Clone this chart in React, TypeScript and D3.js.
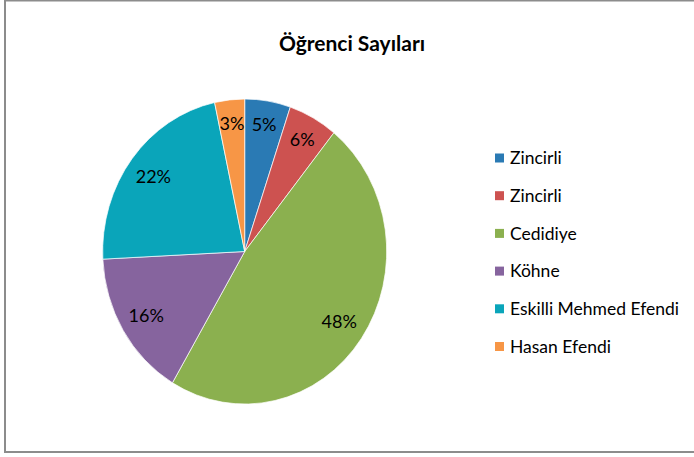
import React from "react";
import * as d3 from "d3";

const title = "Öğrenci Sayıları";
const categories = ["Zincirli", "Zincirli", "Cedidiye", "Köhne", "Eskilli Mehmed Efendi", "Hasan Efendi"];
const values = [5.2, 5.6, 47.7, 15.7, 22.4, 3.4];
const colors = ["#2A7AB4", "#CD5250", "#8BB04F", "#86649E", "#0AA5BA", "#F79646"];

const W = 694;
const H = 457;
const cx = 244.7;
const cy = 251.5;
const rx = 142;
const ry = 152.5;
const FONT = "Lato, 'Open Sans', sans-serif";

export default function App() {
  const total = d3.sum(values);
  const pie = d3.pie<number>().sort(null).value((d) => d);
  const arcs = pie(values);
  const arcGen = d3.arc<d3.PieArcDatum<number>>().innerRadius(0).outerRadius(1);

  return (
    <svg
      width={W}
      height={H}
      style={{ position: "absolute", left: 0, top: 0, background: "#fff" }}
    >
      <rect x={5} y={0.5} width={W + 10} height={451.5} fill="#fff" stroke="#8c8c8c" strokeWidth={2} />
      <text
        x={352}
        y={51}
        textAnchor="middle"
        fontFamily={FONT}
        fontWeight="bold"
        fontSize={21}
        fill="#000"
      >
        {title}
      </text>
      <g transform={`translate(${cx},${cy}) scale(${rx},${ry})`}>
        {arcs.map((a, i) => (
          <path
            key={i}
            d={arcGen(a) || ""}
            fill={colors[i]}
            stroke="#fff"
            strokeWidth={0.7}
            vectorEffect="non-scaling-stroke"
          />
        ))}
      </g>
      {arcs.map((a, i) => {
        const mid = (a.startAngle + a.endAngle) / 2;
        const isSmall = values[i] / total < 0.08;
        const r = isSmall ? 0.84 : 0.81;
        const x = cx + Math.sin(mid) * rx * r;
        const y = cy - Math.cos(mid) * ry * r;
        return (
          <text
            key={"l" + i}
            x={x}
            y={y}
            dy="0.35em"
            textAnchor="middle"
            fontFamily={FONT}
            fontSize={18}
            fill="#000"
          >
            {Math.round((values[i] / total) * 100) + "%"}
          </text>
        );
      })}
      {categories.map((c, i) => {
        const y = 158 + i * 37.7;
        return (
          <g key={"lg" + i}>
            <rect x={495} y={y - 4.5} width={9} height={9} fill={colors[i]} />
            <text x={510} y={y} dy="0.35em" fontFamily={FONT} fontSize={17.5} fill="#000">
              {c}
            </text>
          </g>
        );
      })}
    </svg>
  );
}
